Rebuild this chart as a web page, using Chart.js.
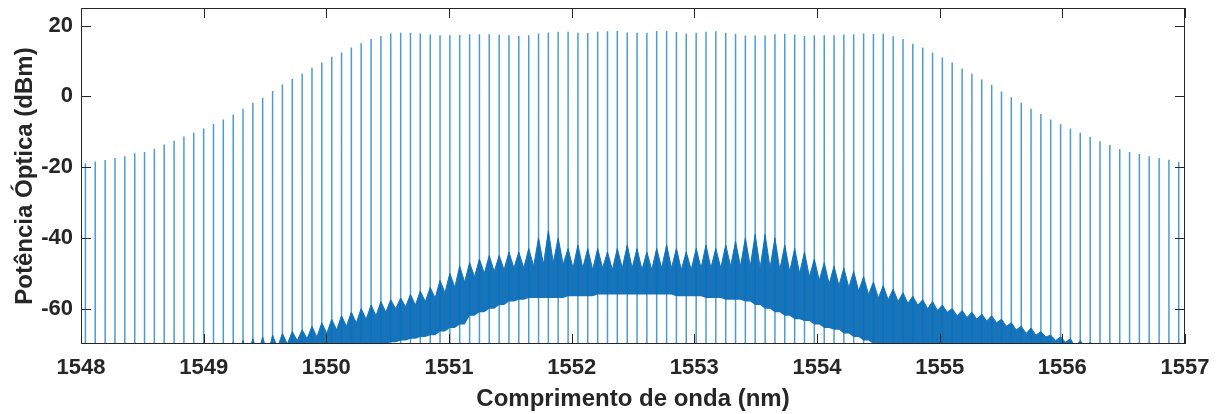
<!DOCTYPE html>
<html>
<head>
<meta charset="utf-8">
<script src="https://cdn.jsdelivr.net/npm/chart.js@4.4.1/dist/chart.umd.min.js"></script>
<style>
  html, body { margin: 0; padding: 0; background: #fff; }
  #wrap { width: 1224px; height: 414px; }
</style>
</head>
<body>
<div id="wrap"><canvas id="spectrum" width="1224" height="414"></canvas></div>
<script>
// comb line wavelengths (nm)
const wavelengths = [
  1548.036, 1548.116, 1548.197, 1548.277, 1548.357, 1548.438, 1548.518, 1548.598, 1548.678, 1548.759,
  1548.839, 1548.919, 1549.000, 1549.080, 1549.160, 1549.241, 1549.321, 1549.401, 1549.481, 1549.562,
  1549.642, 1549.722, 1549.803, 1549.883, 1549.963, 1550.044, 1550.124, 1550.204, 1550.284, 1550.365,
  1550.445, 1550.525, 1550.606, 1550.686, 1550.766, 1550.847, 1550.927, 1551.007, 1551.087, 1551.168,
  1551.248, 1551.328, 1551.409, 1551.489, 1551.569, 1551.650, 1551.730, 1551.810, 1551.890, 1551.971,
  1552.051, 1552.131, 1552.212, 1552.292, 1552.372, 1552.453, 1552.533, 1552.613, 1552.693, 1552.774,
  1552.854, 1552.934, 1553.015, 1553.095, 1553.175, 1553.256, 1553.336, 1553.416, 1553.496, 1553.577,
  1553.657, 1553.737, 1553.818, 1553.898, 1553.978, 1554.059, 1554.139, 1554.219, 1554.299, 1554.380,
  1554.460, 1554.540, 1554.621, 1554.701, 1554.781, 1554.862, 1554.942, 1555.022, 1555.102, 1555.183,
  1555.263, 1555.343, 1555.424, 1555.504, 1555.584, 1555.665, 1555.745, 1555.825, 1555.905, 1555.986,
  1556.066, 1556.146, 1556.227, 1556.307, 1556.387, 1556.468, 1556.548, 1556.628, 1556.708, 1556.789,
  1556.869, 1556.949
];

// peak power of each line (dBm)
const peakPower = [
  -18.9, -18.4, -18.0, -17.4, -16.9, -16.1, -15.7, -14.8, -13.6, -12.5,
  -11.3, -10.2, -9.1, -7.8, -6.5, -5.1, -3.5, -1.8, -0.4, 1.5,
  3.4, 4.9, 6.5, 8.1, 9.6, 11.2, 12.4, 13.8, 15.0, 16.2,
  17.1, 17.8, 18.0, 18.0, 17.8, 17.5, 17.3, 17.3, 17.4, 17.6,
  17.6, 17.6, 17.5, 17.3, 17.1, 17.3, 17.8, 18.1, 18.3, 18.3,
  18.0, 17.9, 18.3, 18.4, 18.5, 18.1, 18.0, 18.0, 18.5, 18.5,
  18.2, 17.8, 18.0, 18.3, 18.4, 18.0, 17.7, 17.2, 17.2, 17.2,
  17.6, 17.7, 17.5, 17.1, 17.3, 17.3, 17.3, 17.5, 17.6, 17.8,
  17.7, 17.7, 17.0, 16.2, 14.9, 13.8, 12.4, 11.0, 9.6, 7.9,
  6.4, 4.8, 3.3, 1.4, -0.2, -1.8, -3.5, -5.0, -6.5, -7.9,
  -9.1, -10.3, -11.4, -12.7, -13.7, -14.9, -15.7, -16.3, -16.9, -17.4,
  -17.9, -18.5
];

// top of the noise pedestal right at each line (dBm)
const skirtTop = [
  -72, -72, -72, -72, -72, -72, -72, -72, -72, -72,
  -71.5, -71, -71, -70.5, -70.5, -69.5, -69, -68.5, -68, -67.5,
  -67, -66.5, -66, -65, -64, -63, -62, -61, -60, -59,
  -58, -57.5, -57, -56, -55, -54, -52, -50, -48, -47,
  -46, -45, -45, -44, -44, -43, -40, -38, -40, -43,
  -42, -43, -43, -44, -43, -42, -43, -44, -43, -42,
  -43, -44, -43, -42, -43, -42, -41, -40, -39, -39,
  -40, -42, -43, -44, -46, -47, -48, -48.5, -49.5, -51,
  -52.5, -53.5, -54.5, -55.5, -56.5, -57.5, -58, -59, -60, -60.5,
  -61, -61.5, -62, -63, -64, -65, -65.5, -66.5, -67.5, -68,
  -68.5, -69, -69.5, -70, -70.5, -71, -71, -71.5, -72, -72,
  -72, -72
];

// noise band between line k and k+1: top and bottom (dBm)
const noiseTop = [
  -76, -76, -76, -76, -76, -76, -76, -76, -76, -76,
  -73, -73, -73, -73, -73, -73, -73, -73, -73, -71,
  -70, -69, -68.5, -68, -67, -66, -65, -64, -63, -62,
  -61, -60, -59.5, -59, -58, -57, -55.5, -54, -52.5, -51,
  -50, -49.5, -49, -48.5, -48.5, -48, -47.5, -47, -47.5, -48.5,
  -48.5, -49, -48.5, -49, -48.5, -48.5, -49, -49, -48.5, -48.5,
  -49, -49, -48.5, -48.5, -48.5, -48, -48, -48, -48.5, -48.5,
  -49, -49.5, -50, -51, -52, -53, -53.5, -54, -55, -56,
  -57, -57.5, -58, -58.5, -59, -60, -60.5, -61, -62, -62.5,
  -63, -63.5, -64, -65, -66, -67, -67.5, -68, -69, -69.5,
  -71, -71, -71, -71, -76, -76, -76, -76, -76, -76,
  -76, -76
];
const noiseBottom = [
  -76, -76, -76, -76, -76, -76, -76, -76, -76, -76,
  -76, -76, -76, -76, -76, -76, -76, -76, -76, -76,
  -76, -76, -76, -76, -76, -71, -71, -70.5, -70.5, -70,
  -70, -69.5, -69, -68.5, -68, -67.5, -66.5, -65.5, -64.5, -62,
  -61, -60, -59, -58, -57.5, -57, -57, -57, -57, -56.5,
  -56.5, -56.5, -56, -56, -56, -56, -56, -56, -56, -56,
  -56.5, -56.5, -56.5, -57, -57, -57.5, -57.5, -58, -59, -60,
  -61, -62, -63, -63.5, -64.5, -65.5, -66, -67, -68, -69,
  -70, -76, -76, -76, -76, -76, -76, -76, -76, -76,
  -76, -76, -76, -76, -76, -76, -76, -76, -76, -76,
  -76, -76, -76, -76, -76, -76, -76, -76, -76, -76,
  -76, -76
];

const xTicks = [1548, 1549, 1550, 1551, 1552, 1553, 1554, 1555, 1556, 1557];
const yTicks = [-60, -40, -20, 0, 20];
const xRange = [1548, 1557];
const yRange = [-70, 25];

const lineBlue = 'rgba(0,114,189,0.7)';
const bandBlue = '#1773ba';
const axisColor = '#262626';
const fontFamily = '"Liberation Sans", Arial, sans-serif';

// spikes: one vertical segment per comb line, broken by nulls
const spikeData = [];
wavelengths.forEach((w, i) => {
    spikeData.push({ x: w, y: yRange[0] }, { x: w, y: peakPower[i] }, { x: w, y: null });
});

// noise band outline: pedestal peak at each line, band level mid-gap
const upperData = [];
const lowerData = [];
wavelengths.forEach((w, i) => {
    upperData.push({ x: w, y: skirtTop[i] });
    lowerData.push({ x: w, y: noiseBottom[i] });
    if (i < wavelengths.length - 1) {
        const mid = (w + wavelengths[i + 1]) / 2;
        upperData.push({ x: mid, y: noiseTop[i] });
        lowerData.push({ x: mid, y: noiseBottom[i] });
    }
});

// MATLAB-like box with inward ticks on all four sides
const boxTicks = {
    id: 'boxTicks',
    afterDatasetsDraw(chart) {
        const { ctx, chartArea: a, scales: { x, y } } = chart;
        const len = 10;
        ctx.save();
        ctx.strokeStyle = axisColor;
        ctx.lineWidth = 1;
        ctx.beginPath();
        x.ticks.forEach(t => {
            const px = Math.round(x.getPixelForValue(t.value)) + 0.5;
            ctx.moveTo(px, a.bottom); ctx.lineTo(px, a.bottom - len);
            ctx.moveTo(px, a.top); ctx.lineTo(px, a.top + len);
        });
        y.ticks.forEach(t => {
            const py = Math.round(y.getPixelForValue(t.value)) + 0.5;
            ctx.moveTo(a.left, py); ctx.lineTo(a.left + len, py);
            ctx.moveTo(a.right, py); ctx.lineTo(a.right - len, py);
        });
        ctx.stroke();
        ctx.strokeRect(Math.round(a.left) + 0.5, Math.round(a.top) + 0.5,
            Math.round(a.width) - 1, Math.round(a.height) - 1);
        ctx.restore();
    }
};

const canvas = document.getElementById('spectrum');
new Chart(canvas.getContext('2d'), {
    type: 'line',
    data: {
        datasets: [
            {
                label: 'linhas',
                data: spikeData,
                borderColor: lineBlue,
                borderWidth: 1.5,
                pointRadius: 0,
                fill: false,
                spanGaps: false,
                clip: 0,
                order: 0
            },
            {
                label: 'ruído (topo)',
                data: upperData,
                borderColor: bandBlue,
                backgroundColor: bandBlue,
                borderWidth: 1,
                pointRadius: 0,
                fill: '+1',
                clip: 0,
                order: 1
            },
            {
                label: 'ruído (base)',
                data: lowerData,
                borderColor: 'rgba(0,0,0,0)',
                borderWidth: 0,
                pointRadius: 0,
                fill: false,
                clip: 0,
                order: 1
            }
        ]
    },
    options: {
        responsive: false,
        animation: false,
        events: [],
        layout: { padding: { top: 8, right: 39, left: 0, bottom: 0 } },
        plugins: { legend: { display: false }, tooltip: { enabled: false } },
        scales: {
            x: {
                type: 'linear',
                min: xRange[0],
                max: xRange[1],
                afterBuildTicks: s => { s.ticks = xTicks.map(v => ({ value: v })); },
                afterFit: s => { s.height = 70; s.paddingLeft = 0; s.paddingRight = 0; },
                grid: { display: false, drawTicks: false },
                border: { display: false },
                ticks: {
                    color: axisColor,
                    padding: 11,
                    maxRotation: 0,
                    autoSkip: false,
                    callback: v => String(v),
                    font: { family: fontFamily, size: 22, weight: 'bold' }
                },
                title: {
                    display: true,
                    text: 'Comprimento de onda (nm)',
                    color: axisColor,
                    padding: { top: 0, bottom: 0 },
                    font: { family: fontFamily, size: 24, weight: 'bold' }
                }
            },
            y: {
                type: 'linear',
                min: yRange[0],
                max: yRange[1],
                afterBuildTicks: s => { s.ticks = yTicks.map(v => ({ value: v })); },
                afterFit: s => { s.width = 81; s.paddingTop = 0; s.paddingBottom = 0; },
                grid: { display: false, drawTicks: false },
                border: { display: false },
                ticks: {
                    color: axisColor,
                    padding: 8,
                    callback: v => String(v),
                    font: { family: fontFamily, size: 22, weight: 'bold' }
                },
                title: {
                    display: true,
                    text: 'Potência Óptica (dBm)',
                    color: axisColor,
                    padding: { top: 11, bottom: 0 },
                    font: { family: fontFamily, size: 24, weight: 'bold' }
                }
            }
        }
    },
    plugins: [boxTicks]
});
</script>
</body>
</html>
